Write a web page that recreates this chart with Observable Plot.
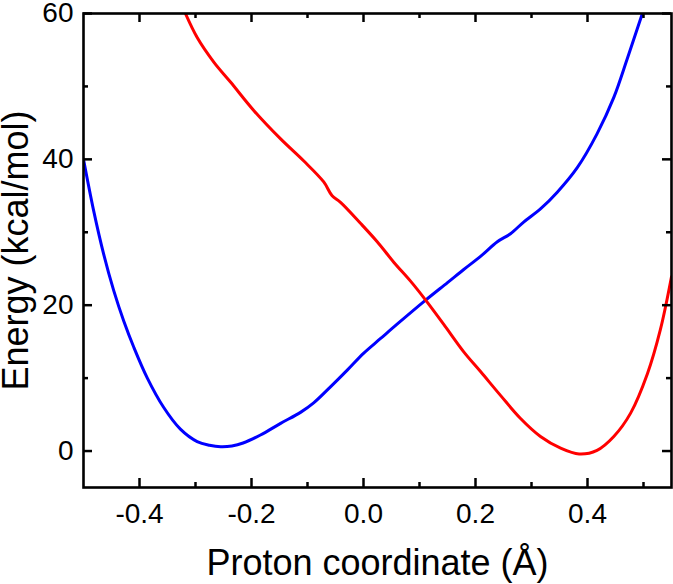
<!DOCTYPE html>
<html>
<head>
<meta charset="utf-8">
<script src="https://cdn.jsdelivr.net/npm/d3@7"></script>
<script src="https://cdn.jsdelivr.net/npm/@observablehq/plot@0.6"></script>
<style>
  html, body { margin: 0; padding: 0; background: #fff; }
</style>
</head>
<body>
<div id="chart"></div>
<script>
// Blue curve
const blueX = [-0.5, -0.482, -0.464, -0.446, -0.428, -0.41, -0.386, -0.357, -0.327, -0.297, -0.275, -0.255, -0.235, -0.215, -0.184, -0.148, -0.1125, -0.089, -0.059, -0.029, 0.0, 0.03, 0.06, 0.111, 0.15, 0.179, 0.209, 0.239, 0.2625, 0.286, 0.316, 0.346, 0.382, 0.417, 0.447, 0.471, 0.498];
const blueY = [40, 33.0, 27.0, 22.0, 17.8, 14.2, 10.0, 6.0, 3.0, 1.3, 0.8, 0.6, 0.7, 1.1, 2.2, 3.8, 5.3, 6.6, 8.8, 11.1, 13.4, 15.4, 17.4, 20.7, 23.1, 24.9, 26.7, 28.7, 29.8, 31.4, 33.2, 35.5, 38.9, 43.5, 48.5, 53.8, 60];
// Red curve
const redX = [-0.318, -0.297, -0.267, -0.2375, -0.196, -0.148, -0.107, -0.071, -0.056, -0.041, -0.005, 0.0245, 0.054, 0.084, 0.111, 0.143, 0.179, 0.209, 0.245, 0.28, 0.316, 0.352, 0.385, 0.417, 0.447, 0.477, 0.507, 0.53, 0.55];
const redY = [60, 56.7, 53.3, 50.6, 46.7, 42.8, 39.8, 36.9, 35.0, 34.1, 31.2, 28.7, 25.9, 23.3, 20.7, 17.4, 13.6, 10.9, 7.6, 4.5, 2.0, 0.4, -0.4, 0.1, 2.0, 5.2, 10.6, 16.6, 23.9];

const xMajor = [-0.4, -0.2, 0.0, 0.2, 0.4];
const xMinor = [-0.3, -0.1, 0.1, 0.3, 0.5];
const yMajor = [0, 20, 40, 60];
const yMinor = [10, 30, 50];
const xLabel = "Proton coordinate (Å)";
const yLabel = "Energy (kcal/mol)";

const blue = blueX.map((x, i) => ({x, y: blueY[i]}));
const red = redX.map((x, i) => ({x, y: redY[i]}));

const W = 673, H = 584;
const mL = 83, mR = 2, mT = 13, mB = 97;
const pw = W - mL - mR, ph = H - mT - mB;
const major = 9, minor = 5;
const tw = 2.5;

const chart = Plot.plot({
  width: W,
  height: H,
  marginLeft: mL,
  marginRight: mR,
  marginTop: mT,
  marginBottom: mB,
  style: {fontFamily: "'Liberation Sans', Arial, sans-serif", fontSize: "28px", color: "#000", background: "#fff"},
  x: {domain: [-0.5, 0.55]},
  y: {domain: [-5, 60]},
  marks: [
    Plot.line(blue, {x: "x", y: "y", stroke: "#0000ff", strokeWidth: 3, curve: "catmull-rom", clip: true}),
    Plot.line(red, {x: "x", y: "y", stroke: "#ff0000", strokeWidth: 3, curve: "catmull-rom", clip: true}),
    // inward ticks, bottom & top
    Plot.tickX(xMajor, {x: d => d, insetTop: ph - major, stroke: "#000", strokeWidth: tw}),
    Plot.tickX(xMajor, {x: d => d, insetBottom: ph - major, stroke: "#000", strokeWidth: tw}),
    Plot.tickX(xMinor, {x: d => d, insetTop: ph - minor, stroke: "#000", strokeWidth: tw}),
    Plot.tickX(xMinor, {x: d => d, insetBottom: ph - minor, stroke: "#000", strokeWidth: tw}),
    // inward ticks, left & right
    Plot.tickY(yMajor, {y: d => d, insetRight: pw - major, stroke: "#000", strokeWidth: tw}),
    Plot.tickY(yMajor, {y: d => d, insetLeft: pw - major, stroke: "#000", strokeWidth: tw}),
    Plot.tickY(yMinor, {y: d => d, insetRight: pw - minor, stroke: "#000", strokeWidth: tw}),
    Plot.tickY(yMinor, {y: d => d, insetLeft: pw - minor, stroke: "#000", strokeWidth: tw}),
    Plot.frame({stroke: "#000", strokeWidth: 2.6}),
    Plot.axisX({ticks: xMajor, tickSize: 0, tickPadding: 16, tickFormat: d => d.toFixed(1), label: null, fontSize: 28}),
    Plot.axisY({ticks: yMajor, tickSize: 0, tickPadding: 10, tickFormat: d => String(d), label: null, fontSize: 28}),
    Plot.text([xLabel], {text: d => d, frameAnchor: "bottom", lineAnchor: "bottom", textAnchor: "middle", dy: 87, fontSize: 36, fill: "#000"}),
    Plot.text([yLabel], {text: d => d, frameAnchor: "left", lineAnchor: "middle", textAnchor: "middle", dx: -67, rotate: -90, fontSize: 36, fill: "#000"})
  ]
});
document.getElementById("chart").appendChild(chart);
</script>
</body>
</html>
